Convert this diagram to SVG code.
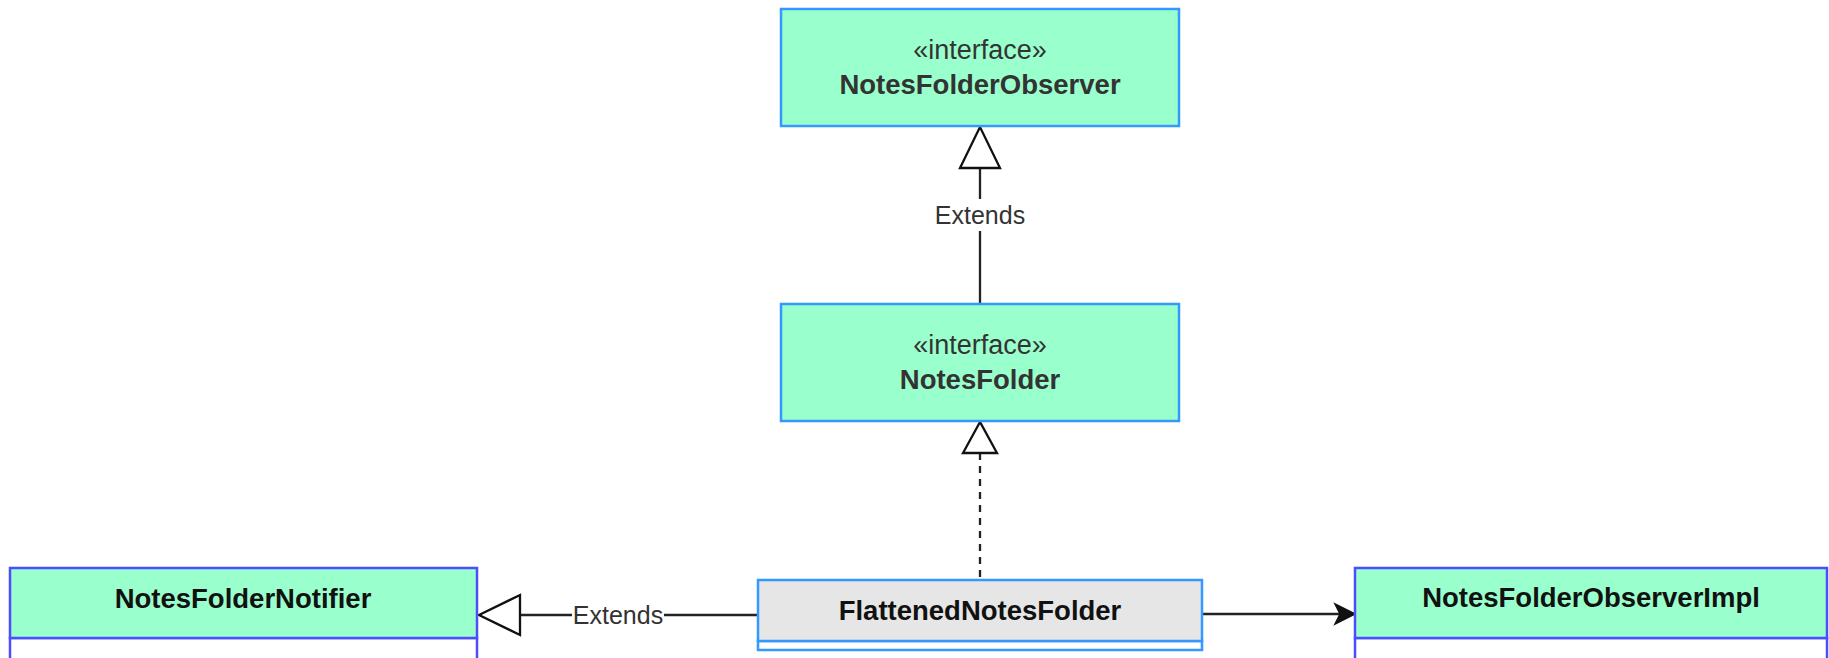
<svg xmlns="http://www.w3.org/2000/svg" width="1829" height="658" viewBox="0 0 1829 658">
  <style>
    .box { fill: #99ffcc; stroke-width: 2.5; }
    .iface { stroke: #3399ff; }
    .cls { stroke: #4d4dff; }
    .flat { fill: #e6e6e6; stroke: #3399ff; stroke-width: 2.5; }
    .body { fill: #ffffff; }
    .stereo { font-family: "Liberation Sans", Arial, sans-serif; font-size: 27px; fill: #333333; text-anchor: middle; }
    .name { font-family: "Liberation Sans", Arial, sans-serif; font-size: 27.5px; font-weight: bold; text-anchor: middle; }
    .lbl { font-family: "Liberation Sans", Arial, sans-serif; font-size: 25px; fill: #333333; text-anchor: middle; }
    .edge { fill: none; stroke: #222222; stroke-width: 2.3; }
    .tri { fill: #ffffff; stroke: #111111; stroke-width: 2.3; stroke-linejoin: miter; }
  </style>

  <!-- connectors -->
  <g id="connectors">
    <!-- NotesFolder extends NotesFolderObserver -->
    <line class="edge" x1="980" y1="168" x2="980" y2="199"/>
    <line class="edge" x1="980" y1="231" x2="980" y2="304"/>
    <polygon class="tri" points="980,127 960,168 1000,168"/>
    <text class="lbl" x="980" y="224">Extends</text>

    <!-- FlattenedNotesFolder realizes NotesFolder -->
    <line class="edge" x1="980" y1="453" x2="980" y2="580" stroke-dasharray="7 6"/>
    <polygon class="tri" points="980,422 963,453 997,453"/>

    <!-- FlattenedNotesFolder extends NotesFolderNotifier -->
    <line class="edge" x1="520" y1="615" x2="572" y2="615"/>
    <line class="edge" x1="664" y1="615" x2="758" y2="615"/>
    <polygon class="tri" points="479,615 520,595 520,635"/>
    <text class="lbl" x="618" y="624">Extends</text>

    <!-- FlattenedNotesFolder uses NotesFolderObserverImpl -->
    <line class="edge" x1="1202" y1="614" x2="1345" y2="614"/>
    <path d="M1355,614 L1335,604 L1340,614 L1335,624 Z" fill="#111111" stroke="#111111" stroke-width="1.5"/>
  </g>

  <!-- NotesFolderObserver -->
  <g id="notesFolderObserver">
    <rect class="box iface" x="781" y="9" width="398" height="117"/>
    <text class="stereo" x="980" y="59">«interface»</text>
    <text class="name" x="980" y="94" fill="#333333">NotesFolderObserver</text>
  </g>

  <!-- NotesFolder -->
  <g id="notesFolder">
    <rect class="box iface" x="781" y="304" width="398" height="117"/>
    <text class="stereo" x="980" y="354">«interface»</text>
    <text class="name" x="980" y="389" fill="#333333">NotesFolder</text>
  </g>

  <!-- NotesFolderNotifier -->
  <g id="notesFolderNotifier">
    <rect class="body cls" x="10" y="638" width="467" height="40" stroke-width="2.5"/>
    <rect class="box cls" x="10" y="568" width="467" height="70"/>
    <text class="name" x="243" y="608" fill="#111111">NotesFolderNotifier</text>
  </g>

  <!-- FlattenedNotesFolder -->
  <g id="flattenedNotesFolder">
    <rect class="body" x="758" y="641" width="444" height="9" stroke="#3399ff" stroke-width="2.5"/>
    <rect class="flat" x="758" y="580" width="444" height="61"/>
    <text class="name" x="980" y="620" fill="#111111">FlattenedNotesFolder</text>
  </g>

  <!-- NotesFolderObserverImpl -->
  <g id="notesFolderObserverImpl">
    <rect class="body cls" x="1355" y="638" width="472" height="40" stroke-width="2.5"/>
    <rect class="box cls" x="1355" y="568" width="472" height="70"/>
    <text class="name" x="1591" y="607" fill="#111111">NotesFolderObserverImpl</text>
  </g>
</svg>
